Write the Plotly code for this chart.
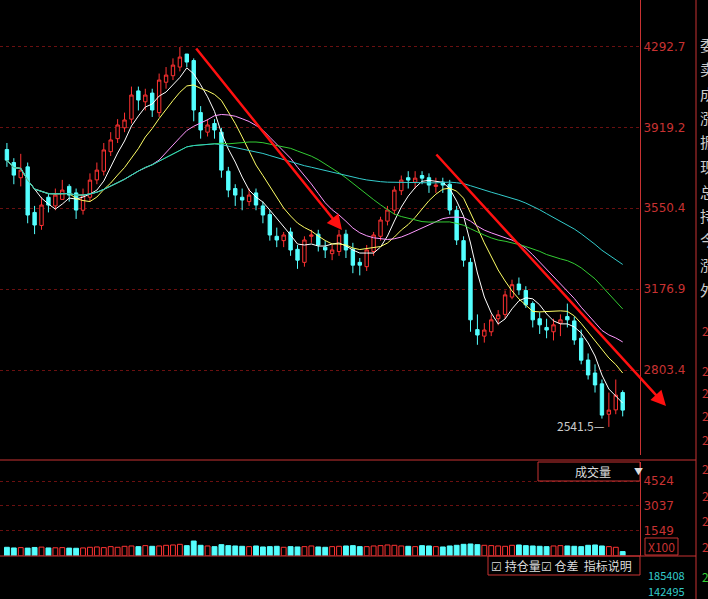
import plotly.graph_objects as go
import pandas as pd

closes = [3771,3702,3725,3518,3472,3564,3564,3610,3633,3610,3541,3610,3679,3725,3818,3864,3933,3956,4071,4048,
          4071,4002,4140,4163,4209,4246,4223,4002,3910,3933,3910,3725,3633,3610,3587,3610,3564,3518,3426,3403,
          3426,3357,3310,3403,3426,3380,3357,3357,3426,3357,3287,3287,3357,3426,3495,3541,3633,3679,3679,3688,
          3688,3656,3656,3656,3541,3403,3310,3035,2965,2988,3035,3058,3150,3197,3173,3104,3035,3012,2988,3012,
          3035,3035,2942,2849,2781,2735,2596,2619,2688,2619]
opens = [3820,3760,3690,3740,3530,3470,3600,3560,3590,3650,3620,3540,3600,3680,3720,3810,3870,3920,3960,4090,
         4040,4080,3990,4130,4160,4200,4260,4230,3990,3900,3940,3900,3720,3640,3600,3580,3620,3560,3520,3420,
         3400,3440,3360,3300,3420,3430,3370,3340,3350,3430,3360,3300,3280,3350,3420,3490,3540,3630,3690,3670,
         3700,3690,3650,3670,3660,3540,3400,3300,2990,2960,2980,3040,3060,3140,3200,3170,3110,3040,3000,2980,
         3020,3050,3030,2950,2850,2790,2740,2600,2620,2700]
highs = [3850,3780,3800,3760,3560,3600,3620,3640,3680,3660,3640,3640,3710,3760,3850,3900,3960,3990,4110,4110,
         4100,4100,4170,4200,4240,4292,4250,4240,4020,3960,3960,3920,3740,3660,3640,3640,3640,3580,3540,3460,
         3440,3460,3380,3420,3450,3450,3400,3380,3450,3450,3390,3320,3380,3440,3510,3560,3650,3700,3720,3720,
         3720,3710,3690,3690,3680,3560,3420,3320,3060,3020,3060,3080,3170,3220,3230,3190,3120,3070,3040,3040,
         3060,3110,3050,2990,2880,2830,2760,2700,2760,2710]
lows = [3740,3660,3650,3480,3430,3450,3530,3540,3590,3580,3500,3520,3580,3660,3700,3790,3850,3900,3940,4000,
        4000,3970,3970,4100,4140,4180,4200,3950,3870,3880,3870,3690,3600,3560,3540,3560,3540,3480,3400,3370,
        3370,3330,3270,3280,3390,3350,3320,3310,3330,3320,3250,3240,3260,3330,3400,3470,3520,3610,3640,3640,
        3660,3620,3620,3620,3520,3380,3280,2980,2920,2930,2960,3010,3040,3130,3150,3090,3000,2970,2950,2940,
        2960,3000,2920,2830,2760,2700,2580,2541.5,2600,2590]
volumes = [520,480,500,470,510,530,480,490,500,470,460,480,520,540,500,560,520,580,600,560,
           620,580,600,640,660,700,620,900,640,600,560,680,620,600,580,560,600,540,560,580,
           520,560,540,560,600,540,520,560,580,600,620,560,560,600,620,660,640,600,580,560,
           620,600,560,540,600,640,700,720,680,640,620,600,580,640,660,620,600,580,560,600,
           620,600,580,560,640,660,600,560,520,260]
price_ticks = [2803.4, 3176.9, 3550.4, 3919.2, 4292.7]
vol_ticks = [1549, 3037, 4524]

idx = list(range(len(closes)))
s = pd.Series(closes, dtype=float)
ma_specs = [(5, "#ffffff"), (10, "#ffff66"), (20, "#ff99ff"), (30, "#33cc33"), (60, "#33cccc")]

RED = "#ff3232"
CYAN = "#54ffff"
AX = "#c83232"

fig = go.Figure()
fig.add_trace(go.Candlestick(
    x=idx, open=opens, high=highs, low=lows, close=closes,
    increasing=dict(line=dict(color=RED, width=1), fillcolor="#000000"),
    decreasing=dict(line=dict(color=CYAN, width=1), fillcolor=CYAN),
    whiskerwidth=0, showlegend=False, xaxis="x", yaxis="y"))
for n, c in ma_specs:
    fig.add_trace(go.Scatter(x=idx, y=s.rolling(n, min_periods=1).mean(), mode="lines",
                             line=dict(color=c, width=1), showlegend=False, xaxis="x", yaxis="y"))
vcol = ["#000000" if c >= o else CYAN for o, c in zip(opens, closes)]
vline = [RED if c >= o else CYAN for o, c in zip(opens, closes)]
fig.add_trace(go.Bar(x=idx, y=volumes, marker=dict(color=vcol, line=dict(color=vline, width=1)),
                     width=0.7, showlegend=False, xaxis="x2", yaxis="y2"))

grid = dict(showgrid=True, gridcolor="#6a1010", griddash="dot", gridwidth=1)
fig.update_layout(
    width=708, height=599, paper_bgcolor="#000000", plot_bgcolor="#000000",
    margin=dict(l=0, r=68, t=0, b=0),
    xaxis=dict(domain=[0, 1], range=[-1, 91.5], showticklabels=False, showgrid=False,
               zeroline=False, rangeslider=dict(visible=False)),
    yaxis=dict(domain=[0.24, 1], range=[2411, 4509], side="right", tickvals=price_ticks,
               ticktext=[f"{v:.1f}" for v in price_ticks], tickfont=dict(color=AX, size=12, family="DejaVu Sans"),
               showline=True, linecolor=AX, zeroline=False, **grid),
    xaxis2=dict(domain=[0, 1], range=[-1, 91.5], showticklabels=False, showgrid=False, zeroline=False, anchor="y2"),
    yaxis2=dict(domain=[0.072, 0.229], range=[0, 5700], side="right", tickvals=vol_ticks,
                ticktext=[str(v) for v in vol_ticks], tickfont=dict(color=AX, size=12, family="DejaVu Sans"),
                showline=True, linecolor=AX, zeroline=False, anchor="x2", **grid),
    font=dict(family="Noto Sans CJK SC"),
)

def px(x): return x / 640
def py(y): return 1 - y / 599

shapes = [
    dict(type="line", xref="paper", yref="paper", x0=0, x1=px(640), y0=py(460), y1=py(460), line=dict(color=AX, width=1)),
    dict(type="line", xref="paper", yref="paper", x0=0, x1=px(640), y0=py(556), y1=py(556), line=dict(color=AX, width=1)),
    dict(type="line", xref="paper", yref="paper", x0=px(696), x1=px(696), y0=0, y1=1, line=dict(color=AX, width=1)),
    dict(type="line", xref="paper", yref="paper", x0=px(640), x1=px(696), y0=py(460), y1=py(460), line=dict(color=AX, width=1)),
    dict(type="line", xref="paper", yref="paper", x0=px(640), x1=px(696), y0=py(556), y1=py(556), line=dict(color=AX, width=1)),
    dict(type="rect", xref="paper", yref="paper", x0=px(538), x1=px(640), y0=py(481), y1=py(462), line=dict(color=AX, width=1)),
    dict(type="rect", xref="paper", yref="paper", x0=px(488), x1=px(640), y0=py(575), y1=py(556), line=dict(color=AX, width=1)),
    dict(type="rect", xref="paper", yref="paper", x0=px(645), x1=px(678), y0=py(555), y1=py(538), line=dict(color=AX, width=1)),
]
fig.update_layout(shapes=shapes)

ann = []
for (x0, y0, x1, y1) in [(195, 47, 342, 230), (435, 153, 666, 406)]:
    ann.append(dict(xref="paper", yref="paper", axref="pixel", ayref="pixel", x=px(x1), y=py(y1),
                    ax=x0 - x1, ay=y0 - y1, showarrow=True, arrowhead=2, arrowsize=1.2, arrowwidth=2.5,
                    arrowcolor="#ff1010", text=""))
def t(x, y, s, c, size=12, anchor="left"):
    ann.append(dict(xref="paper", yref="paper", x=px(x), y=py(y), text=s, showarrow=False,
                    font=dict(color=c, size=size), xanchor=anchor, yanchor="middle"))
t(555, 425, "2541.5—", "#cccccc")
t(573, 471, "成交量", "#dddddd")
t(632, 471, "▼", "#dddddd", 9)
t(646, 546, "X100", AX)
t(489, 565, "☑ 持仓量☑ 仓差  指标说明", "#dddddd")
t(646, 575, "185408", "#33cccc", 11)
t(646, 591, "142495", "#33cccc", 11)
side = ["委", "卖", "成", "涨", "振", "现", "总", "持", "今", "涨", "外"]
for i, ch in enumerate(side):
    t(698, 44 + i * 24.5, ch, "#cccccc", 15)
for y in [330, 370, 392, 415, 440, 468, 495, 520, 546, 576]:
    t(700, y, "2", AX if y < 560 else "#33cc33")
fig.update_layout(annotations=ann)
fig.write_html("out.html", config={"displayModeBar": False})

with open("out.html", encoding="utf-8") as f:
    html = f.read()
html = html.replace("<head>", "<head><style>html,body{margin:0;padding:0;background:#000;overflow:hidden}</style>", 1)
with open("out.html", "w", encoding="utf-8") as f:
    f.write(html)
